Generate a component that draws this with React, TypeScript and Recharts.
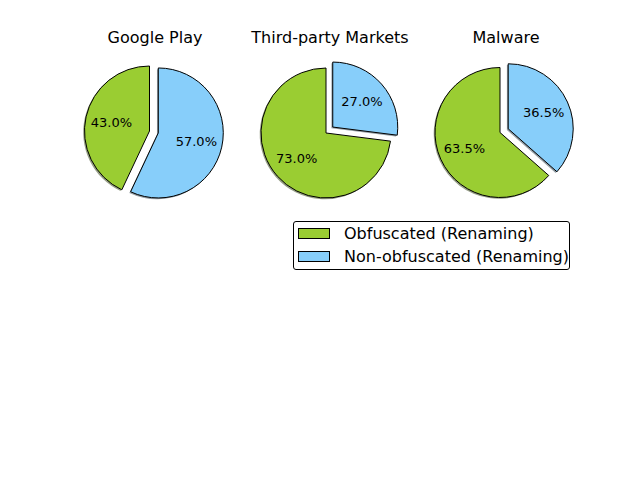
import React from 'react';
import { PieChart, Pie, Cell, Legend } from 'recharts';

// ---- data ----
const categories = ['Google Play', 'Third-party Markets', 'Malware'];
const obfuscated = [43.0, 73.0, 63.5];
const nonObfuscated = [57.0, 27.0, 36.5];
const seriesNames = ['Obfuscated (Renaming)', 'Non-obfuscated (Renaming)'];

// ---- style / layout ----
const COLORS = ['#9ACD32', '#87CEFA'];
const SHADOW = ['rgba(46,62,15,0.5)', 'rgba(41,62,75,0.5)'];
const FONT = '"DejaVu Sans", Verdana, sans-serif';
const RADIUS = 65;
const EXPLODE = [0, 9];
const CENTERS = [
  [149.5, 131],
  [326, 133],
  [500, 132.5],
];
const TITLE_X = [155, 330, 506];
const TITLE_Y = 38;
const SHADOW_OFF = 1.3;

const RAD = Math.PI / 180;

function makeData(i: number) {
  return [
    { name: seriesNames[0], value: obfuscated[i] },
    { name: seriesNames[1], value: nonObfuscated[i] },
  ];
}

function sliceCenter(i: number, slice: number): [number, number] {
  const data = makeData(i);
  const total = data.reduce((s, d) => s + d.value, 0);
  let start = 90;
  for (let k = 0; k < slice; k++) start += (360 * data[k].value) / total;
  const mid = start + (180 * data[slice].value) / total;
  const [cx, cy] = CENTERS[i];
  const e = EXPLODE[slice];
  return [cx + e * Math.cos(mid * RAD), cy - e * Math.sin(mid * RAD)];
}

const LegendBox = () => (
  <div
    style={{
      position: 'relative',
      width: 277,
      height: 49,
      border: '1px solid #000',
      borderRadius: 3,
      background: '#fff',
      boxSizing: 'border-box',
      fontFamily: FONT,
      fontSize: 16,
      color: '#000',
      overflow: 'visible',
    }}
  >
    {seriesNames.map((n, k) => (
      <React.Fragment key={n}>
        <div
          style={{
            position: 'absolute',
            left: 4,
            top: 6 + k * 23.2,
            width: 32,
            height: 11,
            background: COLORS[k],
            border: '1px solid #000',
            boxSizing: 'border-box',
          }}
        />
        <div
          style={{
            position: 'absolute',
            left: 50,
            top: 2 + k * 23.2,
            lineHeight: '19px',
            whiteSpace: 'nowrap',
          }}
        >
          {n}
        </div>
      </React.Fragment>
    ))}
  </div>
);

export default function App() {
  const pies: React.ReactNode[] = [];
  // shadows first (beneath all wedges)
  categories.forEach((_, i) => {
    [0, 1].forEach((slice) => {
      const [cx, cy] = sliceCenter(i, slice);
      pies.push(
        <Pie
          key={`sh-${i}-${slice}`}
          data={makeData(i)}
          dataKey="value"
          nameKey="name"
          cx={cx - SHADOW_OFF}
          cy={cy + SHADOW_OFF}
          outerRadius={RADIUS}
          innerRadius={0}
          startAngle={90}
          endAngle={450}
          isAnimationActive={false}
          legendType="none"
          label={false}
          labelLine={false}
        >
          {[0, 1].map((k) => (
            <Cell key={k} fill={k === slice ? SHADOW[k] : 'none'} stroke="none" />
          ))}
        </Pie>
      );
    });
  });
  categories.forEach((_, i) => {
    [0, 1].forEach((slice) => {
      const [cx, cy] = sliceCenter(i, slice);
      pies.push(
        <Pie
          key={`p-${i}-${slice}`}
          data={makeData(i)}
          dataKey="value"
          nameKey="name"
          cx={cx}
          cy={cy}
          outerRadius={RADIUS}
          innerRadius={0}
          startAngle={90}
          endAngle={450}
          isAnimationActive={false}
          legendType="none"
          labelLine={false}
          label={(p: any) => {
            if (p.index !== slice) return <g />;
            const r = RADIUS * 0.6;
            const x = cx + r * Math.cos(p.midAngle * RAD);
            const y = cy - r * Math.sin(p.midAngle * RAD);
            return (
              <text
                x={x}
                y={y}
                textAnchor="middle"
                dominantBaseline="central"
                fontFamily={FONT}
                fontSize={13}
                fill="#000"
              >
                {(p.percent * 100).toFixed(1)}%
              </text>
            );
          }}
        >
          {[0, 1].map((k) => (
            <Cell
              key={k}
              fill={k === slice ? COLORS[k] : 'none'}
              stroke={k === slice ? '#000' : 'none'}
              strokeWidth={1}
            />
          ))}
        </Pie>
      );
    });
  });

  return (
    <div style={{ position: 'absolute', left: 0, top: 0, width: 642, height: 484, background: '#fff' }}>
      {categories.map((c, i) => (
        <div
          key={c}
          style={{
            position: 'absolute',
            left: TITLE_X[i] - 120,
            width: 240,
            top: TITLE_Y - 10,
            height: 20,
            lineHeight: '20px',
            textAlign: 'center',
            fontFamily: FONT,
            fontSize: 16,
            color: '#000',
            zIndex: 2,
          }}
        >
          {c}
        </div>
      ))}
      <PieChart width={642} height={484} margin={{ top: 0, right: 0, bottom: 0, left: 0 }}>
        {pies}
        <Legend
          layout="vertical"
          align="right"
          verticalAlign="top"
          content={() => <LegendBox />}
          wrapperStyle={{ position: 'absolute', left: 293, top: 221, width: 277, height: 49, right: 'auto', bottom: 'auto' }}
        />
      </PieChart>
    </div>
  );
}
